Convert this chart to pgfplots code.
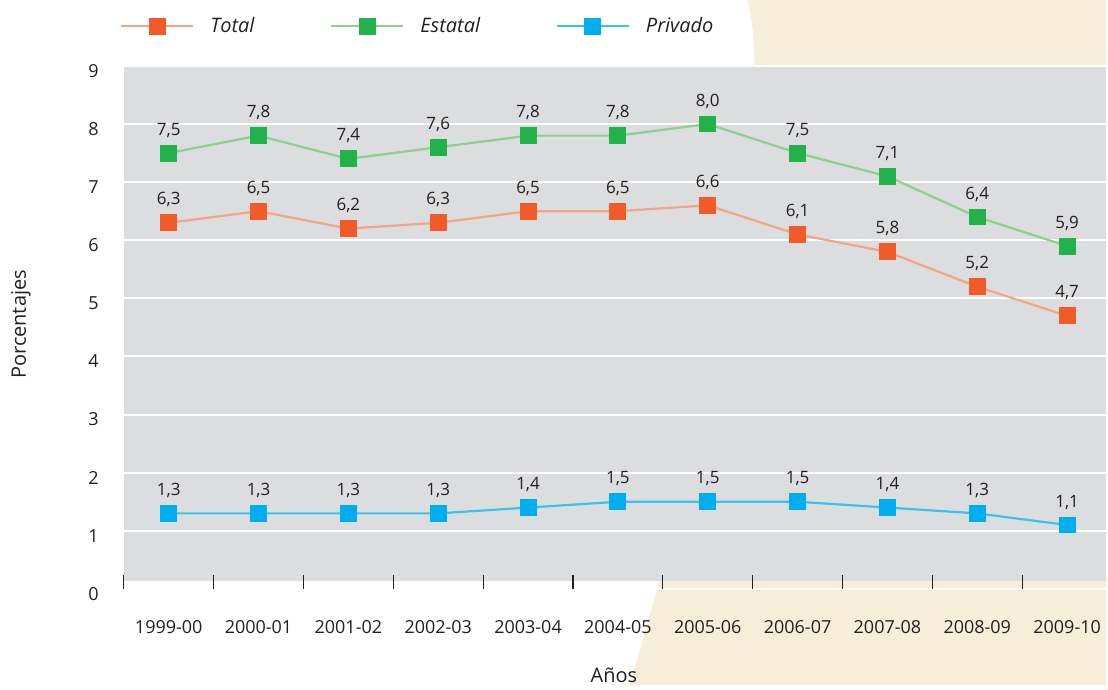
\documentclass[border=0pt]{standalone}
\usepackage{pgfplots}
\pgfplotsset{compat=1.18}
\usepackage{fontspec}
\setmainfont{Open Sans}

\definecolor{plotgray}{HTML}{DCDDDF}
\definecolor{beige}{HTML}{F7EEDA}
\definecolor{txt}{HTML}{231F20}
\definecolor{totline}{HTML}{F4A582}
\definecolor{totmark}{HTML}{F15A29}
\definecolor{estline}{HTML}{8ED08F}
\definecolor{estmark}{HTML}{22B24C}
\definecolor{priline}{HTML}{3EC1EE}
\definecolor{primark}{HTML}{00AEEF}

\begin{document}
\begin{tikzpicture}
% background, in pixels of the reference (1px = 0.5pt, y downwards)
\begin{scope}[x=0.5pt, y=-0.5pt, shift={(-124,-590)}]
  \useasboundingbox (0,0) rectangle (1108,686);
  \fill[beige] (749,0) .. controls (780,130) and (700,450) .. (631,686)
    -- (1108,686) -- (1108,0) -- cycle;
  \fill[plotgray] (124,66) rectangle (1108,582);
\end{scope}

\begin{axis}[
  at={(0,0)}, anchor=south west,
  scale only axis, width=492.5pt, height=262pt,
  xmin=-0.5, xmax=10.444, ymin=0, ymax=9,
  axis line style={draw=none},
  /pgf/number format/assume math mode=true,
  tick pos=left, tick align=inside,
  major tick length=7pt,
  xtick={-0.5,0.5,...,9.5},
  xticklabels={1999-00,2000-01,2001-02,2002-03,2003-04,2004-05,2005-06,2006-07,2007-08,2008-09,2009-10},
  xticklabel style={xshift=22.5pt, yshift=-12.5pt, font=\fontsize{9}{11}\selectfont, text=txt},
  x tick style={txt, line width=0.6pt},
  ytick={0,...,9},
  y tick style={draw=none},
  yticklabel style={xshift=-9pt, yshift=-2.5pt, font=\fontsize{9}{11}\selectfont, text=txt},
  ymajorgrids, major grid style={white, line width=1pt},
  xlabel={Años}, ylabel={Porcentajes},
  xlabel style={at={(axis description cs:0.4985,-0.166)}, anchor=center, font=\fontsize{10}{12}\selectfont, text=txt},
  ylabel style={at={(axis description cs:-0.1046,0.5057)}, anchor=center, rotate=0, font=\fontsize{10}{12}\selectfont, text=txt},
  legend style={draw=none, fill=none, at={(axis description cs:-0.010,1.076)}, anchor=west,
    legend columns=3, font=\fontsize{10}{12}\selectfont\itshape, text=txt,
    /tikz/every odd column/.append style={column sep=6pt},
    /tikz/every even column/.append style={column sep=36pt}},
  legend image code/.code={
    \draw[mark repeat=2, mark phase=2, #1] plot coordinates {(0pt,0pt) (18pt,0pt) (36pt,0pt)};},
  nodes near coords={\pgfmathprintnumber[fixed, fixed zerofill, precision=1, use comma]{\pgfplotspointmeta}},
  every node near coord/.append style={anchor=center, yshift=11.5pt, text=txt, font=\fontsize{8.5}{10}\selectfont},
]
% Total
\addplot[draw=totline, line width=1.1pt, mark=square*, mark size=4pt,
  mark options={draw=totmark, fill=totmark, line width=0pt}] coordinates {
  (0,6.3) (1,6.5) (2,6.2) (3,6.3) (4,6.5) (5,6.5) (6,6.6) (7,6.1) (8,5.8) (9,5.2) (10,4.7) };
% Estatal
\addplot[draw=estline, line width=1.1pt, mark=square*, mark size=4pt,
  mark options={draw=estmark, fill=estmark, line width=0pt}] coordinates {
  (0,7.5) (1,7.8) (2,7.4) (3,7.6) (4,7.8) (5,7.8) (6,8.0) (7,7.5) (8,7.1) (9,6.4) (10,5.9) };
% Privado
\addplot[draw=priline, line width=1.1pt, mark=square*, mark size=4pt,
  mark options={draw=primark, fill=primark, line width=0pt}] coordinates {
  (0,1.3) (1,1.3) (2,1.3) (3,1.3) (4,1.4) (5,1.5) (6,1.5) (7,1.5) (8,1.4) (9,1.3) (10,1.1) };
\legend{Total, Estatal, Privado}
\end{axis}
\end{tikzpicture}
\end{document}
